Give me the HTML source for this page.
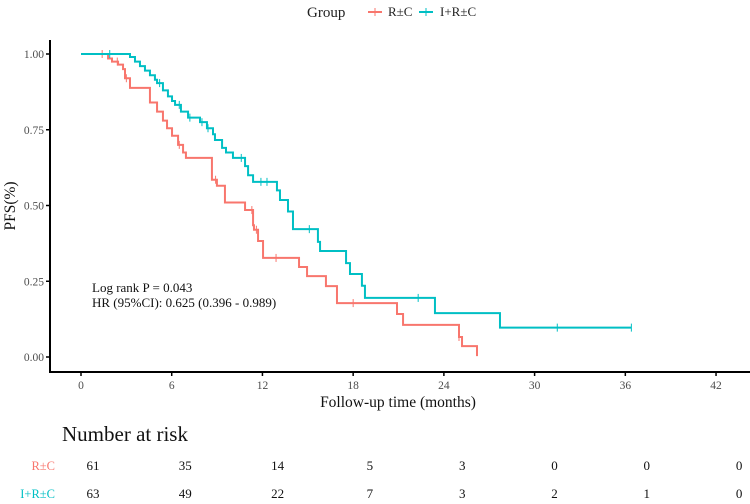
<!DOCTYPE html>
<html><head><meta charset="utf-8"><style>
body{margin:0;background:#fff}
svg{display:block;font-family:"Liberation Serif",serif}
</style></head><body>
<svg id="chart" width="750" height="504" xmlns="http://www.w3.org/2000/svg">
<g>
<text x="307" y="17" font-size="15" fill="#222">Group</text>
<line x1="368" y1="12" x2="382" y2="12" stroke="#F8766D" stroke-width="2"/>
<line x1="375" y1="8" x2="375" y2="16" stroke="#F8766D" stroke-width="1"/>
<text x="388" y="16" font-size="13" fill="#222">R±C</text>
<line x1="419" y1="12" x2="433" y2="12" stroke="#00BFC4" stroke-width="2"/>
<line x1="426" y1="8" x2="426" y2="16" stroke="#00BFC4" stroke-width="1"/>
<text x="440" y="16" font-size="13" fill="#222">I+R±C</text>
</g>
<g id="axes"></g>
<g id="curves"></g>
<text x="92" y="292" font-size="13" fill="#111">Log rank P = 0.043</text>
<text x="92" y="307" font-size="13" fill="#111">HR (95%CI): 0.625 (0.396 - 0.989)</text>
<text x="398" y="407" font-size="15.5" fill="#111" text-anchor="middle">Follow-up time (months)</text>
<text transform="translate(15,206) rotate(-90)" font-size="15.5" fill="#111" text-anchor="middle">PFS(%)</text>
<text x="62" y="441" font-size="21" fill="#111">Number at risk</text>
<g id="risk"></g>
</svg>
<script>
const xTicks=[0,6,12,18,24,30,36,42];
const yTicks=[0,0.25,0.5,0.75,1];
const yTickLabels=["0.00","0.25","0.50","0.75","1.00"];
const rcTimes=[0,1.79,2.05,2.45,2.78,2.91,3.24,4.56,5.03,5.42,5.69,6.02,6.42,6.75,6.94,8.66,8.99,9.52,10.85,11.38,11.44,11.71,12.04,14.42,14.95,16.20,16.93,20.90,21.30,25.0,25.2,26.19];
const rcSurv=[1,0.985,0.975,0.965,0.95,0.92,0.888,0.84,0.81,0.78,0.755,0.73,0.70,0.675,0.657,0.585,0.565,0.51,0.485,0.435,0.42,0.383,0.327,0.297,0.267,0.234,0.178,0.142,0.106,0.066,0.036,0.003];
const rcEnd=26.19;
const rcCensor=[1.4,2.4,3.0,6.5,8.9,11.3,11.6,12.9,18.0,25.0];
const ircTimes=[0,3.24,3.57,3.90,4.23,4.56,4.89,5.03,5.42,5.75,6.02,6.22,6.61,7.08,7.87,8.33,8.73,8.86,9.33,9.59,10.05,10.85,11.05,11.38,12.96,13.16,13.69,14.02,15.67,15.81,17.53,17.79,18.58,18.78,23.41,27.71];
const ircSurv=[1,0.99,0.975,0.96,0.945,0.93,0.915,0.904,0.88,0.86,0.845,0.832,0.81,0.79,0.775,0.755,0.735,0.716,0.69,0.675,0.657,0.63,0.60,0.578,0.55,0.518,0.48,0.422,0.38,0.35,0.31,0.274,0.235,0.195,0.145,0.097];
const ircEnd=36.4;
const ircCensor=[1.9,5.2,6.5,7.2,8.0,8.4,10.6,11.9,12.3,15.1,22.3,31.5,36.4];
const riskRc=[61,35,14,5,3,0,0,0];
const riskIrc=[63,49,22,7,3,2,1,0];
const NS="http://www.w3.org/2000/svg";
const X=t=>81+t*15.12, Y=s=>357-s*303;
function mk(tag,attrs,parent){const e=document.createElementNS(NS,tag);for(const k in attrs)e.setAttribute(k,attrs[k]);parent.appendChild(e);return e;}
const axes=document.getElementById('axes');
let e=mk('line',{x1:50,y1:40,x2:50,y2:372,stroke:'#000','stroke-width':2},axes);


e=mk('line',{x1:49,y1:372,x2:750,y2:372,stroke:'#000','stroke-width':2},axes);


yTicks.forEach((v,i)=>{
 const t=mk('line',{x1:46,x2:50,y1:Y(v),y2:Y(v),stroke:'#000','stroke-width':1.5},axes);
 
 
 const l=mk('text',{x:44,y:Y(v)+4,'font-size':11.5,fill:'#4d4d4d','text-anchor':'end'},axes);l.textContent=yTickLabels[i];
 
 
});
xTicks.forEach(v=>{
 const t=mk('line',{x1:X(v),x2:X(v),y1:372,y2:376,stroke:'#000','stroke-width':1.5},axes);
 
 
 const l=mk('text',{x:X(v),y:389,'font-size':11.5,fill:'#4d4d4d','text-anchor':'middle'},axes);l.textContent=v;
 
 
});
const curves=document.getElementById('curves');
function stepVal(times,surv,t){let s=surv[0];for(let i=0;i<times.length;i++){if(times[i]<=t)s=surv[i];}return s;}
function draw(times,surv,end,cens,col,name){
 let d='M'+X(times[0])+','+Y(surv[0]);
 for(let i=1;i<times.length;i++){d+=' H'+X(times[i])+' V'+Y(surv[i]);}
 d+=' H'+X(end);
 const p=mk('path',{d:d,fill:'none',stroke:col,'stroke-width':2},curves);
 
 
 cens.forEach(c=>{const y=Y(stepVal(times,surv,c));
  const m=mk('line',{x1:X(c),x2:X(c),y1:y-4,y2:y+4,stroke:col,'stroke-width':1},curves);
  
  });
}
draw(rcTimes,rcSurv,rcEnd,rcCensor,'#F8766D','rc');
draw(ircTimes,ircSurv,ircEnd,ircCensor,'#00BFC4','irc');
const risk=document.getElementById('risk');
function row(vals,y,label,col,name){
 const l=mk('text',{x:55,y:y,'font-size':12.5,fill:col,'text-anchor':'end'},risk);l.textContent=label;
 
 
 vals.forEach((v,i)=>{const t=mk('text',{x:93+i*92.3,y:y,'font-size':13,fill:'#111','text-anchor':'middle'},risk);t.textContent=v;
  
  });
}
row(riskRc,470,'R±C','#F8766D','rc');
row(riskIrc,498,'I+R±C','#00BFC4','irc');
</script>
</body></html>
